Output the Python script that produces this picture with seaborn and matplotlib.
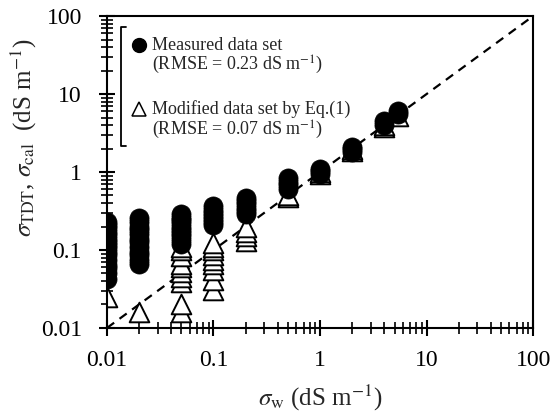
import matplotlib
matplotlib.use("Agg")
import matplotlib.pyplot as plt
import seaborn as sns
import pandas as pd
from matplotlib.lines import Line2D

# ---- data ----
meas_x = ([0.01] * 16 + [0.02] * 12 + [0.05] * 10 + [0.1] * 7 + [0.2] * 6
          + [0.5] * 4 + [1] * 3 + [2] * 3 + [4.0] * 2 + [5.4] * 2)
meas_y = [0.042, 0.05, 0.058, 0.065, 0.075, 0.085, 0.095, 0.105, 0.115, 0.125, 0.14, 0.155, 0.17, 0.19, 0.21, 0.23,
          0.067, 0.075, 0.085, 0.095, 0.11, 0.125, 0.14, 0.16, 0.18, 0.2, 0.23, 0.26,
          0.12, 0.135, 0.15, 0.165, 0.18, 0.2, 0.22, 0.24, 0.26, 0.29,
          0.21, 0.23, 0.25, 0.27, 0.3, 0.33, 0.37,
          0.29, 0.32, 0.35, 0.39, 0.43, 0.47,
          0.6, 0.68, 0.75, 0.83,
          0.95, 1.02, 1.1,
          1.8, 1.95, 2.1,
          4.0, 4.5,
          5.5, 6.0]

mod_x = ([0.01] * 1 + [0.02] * 1 + [0.05] * 10 + [0.1] * 9 + [0.2] * 4
         + [0.5] * 2 + [1] * 2 + [2] * 2 + [4.0] * 2 + [5.4] * 1)
mod_y = [0.025,
         0.016,
         0.016, 0.02, 0.039, 0.045, 0.052, 0.06, 0.066, 0.084, 0.1, 0.11,
         0.031, 0.041, 0.055, 0.066, 0.075, 0.085, 0.1, 0.11, 0.123,
         0.13, 0.15, 0.17, 0.2,
         0.48, 0.5,
         0.95, 1.0,
         1.85, 1.95,
         3.8, 4.0,
         5.2]

line_x = [0.01, 100]
line_y = [0.01, 100]

x_ticks = [0.01, 0.1, 1, 10, 100]
x_ticklabels = ["0.01", "0.1", "1", "10", "100"]
y_ticks = [0.01, 0.1, 1, 10, 100]
y_ticklabels = ["0.01", "0.1", "1", "10", "100"]

legend_labels = ["Measured data set", "(RMSE = 0.23 dS m$^{-1}$)",
                 "Modified data set by Eq.(1)", "(RMSE = 0.07 dS m$^{-1}$)"]

df_meas = pd.DataFrame({"x": meas_x, "y": meas_y})
df_mod = pd.DataFrame({"x": mod_x, "y": mod_y})

sns.set_style("white")
plt.rcParams["font.family"] = ["Liberation Serif", "DejaVu Serif"]
plt.rcParams["mathtext.fontset"] = "stix"

fig = plt.figure(figsize=(5.6, 4.12), dpi=100)
ax = fig.add_axes([0.191, 0.204, 0.761, 0.757])

ax.plot(line_x, line_y, color="black", lw=1.6, dashes=(4, 3), zorder=1)

sns.scatterplot(data=df_mod, x="x", y="y", ax=ax, marker="^", s=200,
                facecolor="white", edgecolor="black", linewidth=1.4, zorder=2)
sns.scatterplot(data=df_meas, x="x", y="y", ax=ax, marker="o", s=190,
                color="black", edgecolor="black", linewidth=0.5, zorder=3)

ax.set_xscale("log")
ax.set_yscale("log")
ax.set_xlim(0.01, 100)
ax.set_ylim(0.01, 100)
ax.set_xticks(x_ticks)
ax.set_xticklabels(x_ticklabels)
ax.set_yticks(y_ticks)
ax.set_yticklabels(y_ticklabels)

for sp in ax.spines.values():
    sp.set_color("black")
    sp.set_linewidth(1.5)

ax.tick_params(axis="both", which="major", direction="inout", length=12,
               width=1.5, labelsize=17, colors="black",
               bottom=True, left=True, top=False, right=False)
ax.tick_params(axis="both", which="minor", direction="inout", length=8,
               width=1.2, colors="black",
               bottom=True, left=True, top=False, right=False)
ax.tick_params(axis="x", which="major", pad=10)
ax.tick_params(axis="y", which="major", pad=12)

ax.set_xlabel(r"$\sigma_{\mathrm{w}}$ (dS m$^{-1}$)", fontsize=18)
ax.set_ylabel(r"$\sigma_{\mathrm{TDT}}$, $\sigma_{\mathrm{cal}}$  (dS m$^{-1}$)", fontsize=18)
ax.xaxis.set_label_coords(0.5, -0.175)
ax.yaxis.set_label_coords(-0.16, 0.61)

# legend block with bracket
tr = ax.transAxes
ax.plot([0.045, 0.033, 0.033, 0.045], [0.965, 0.965, 0.583, 0.583],
        transform=tr, color="black", lw=1.3, clip_on=False)
ax.add_line(Line2D([0.075], [0.907], marker="o", ms=10, color="black",
                   transform=tr, linestyle="none"))
ax.add_line(Line2D([0.075], [0.702], marker="^", ms=10.5, markerfacecolor="white",
                   markeredgecolor="black", markeredgewidth=1.1, transform=tr,
                   linestyle="none"))
ax.text(0.106, 0.907, legend_labels[0], transform=tr, fontsize=13, va="center")
ax.text(0.106, 0.843, legend_labels[1], transform=tr, fontsize=13, va="center")
ax.text(0.106, 0.702, legend_labels[2], transform=tr, fontsize=13, va="center")
ax.text(0.106, 0.635, legend_labels[3], transform=tr, fontsize=13, va="center")

fig.savefig("out.png", dpi=100)
